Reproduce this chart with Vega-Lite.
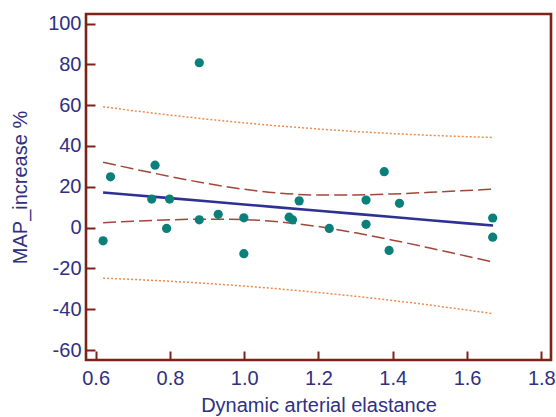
{
  "$schema": "https://vega.github.io/schema/vega-lite/v6.json",
  "width": 465,
  "height": 346,
  "autosize": {"type": "none"},
  "padding": {"left": 86, "top": 14, "right": 5, "bottom": 57},
  "background": "white",
  "config": {
    "view": {"stroke": "#7a231a", "strokeWidth": 2.6},
    "axis": {
      "grid": false,
      "domain": false,
      "labelFont": "Liberation Sans",
      "labelFontSize": 20,
      "labelColor": "#2f3080",
      "titleFont": "Liberation Sans",
      "titleFontSize": 20,
      "titleFontWeight": "normal",
      "titleColor": "#2f3080",
      "tickColor": "#7a231a",
      "tickWidth": 2
    }
  },
  "datasets": {
    "points": [
      {"eadyn": 0.620, "map": -6.5},
      {"eadyn": 0.640, "map": 24.9},
      {"eadyn": 0.751, "map": 14.0},
      {"eadyn": 0.760, "map": 30.6},
      {"eadyn": 0.791, "map": -0.4},
      {"eadyn": 0.799, "map": 14.0},
      {"eadyn": 0.879, "map": 80.8},
      {"eadyn": 0.879, "map": 3.8},
      {"eadyn": 0.930, "map": 6.5},
      {"eadyn": 0.999, "map": 4.8},
      {"eadyn": 0.999, "map": -12.8},
      {"eadyn": 1.121, "map": 5.1},
      {"eadyn": 1.130, "map": 3.8},
      {"eadyn": 1.148, "map": 13.1},
      {"eadyn": 1.229, "map": -0.4},
      {"eadyn": 1.328, "map": 13.5},
      {"eadyn": 1.328, "map": 1.6},
      {"eadyn": 1.377, "map": 27.4},
      {"eadyn": 1.390, "map": -11.2},
      {"eadyn": 1.418, "map": 11.9},
      {"eadyn": 1.669, "map": 4.7},
      {"eadyn": 1.669, "map": -4.7}
    ],
    "fit": [
      {"eadyn": 0.62, "reg": 17.20, "ciLo": 2.39, "ciHi": 32.01, "piLo": -24.80, "piHi": 59.20},
      {"eadyn": 0.70, "reg": 15.97, "ciLo": 3.09, "ciHi": 28.85, "piLo": -25.39, "piHi": 57.33},
      {"eadyn": 0.80, "reg": 14.43, "ciLo": 3.80, "ciHi": 25.06, "piLo": -26.28, "piHi": 55.14},
      {"eadyn": 0.90, "reg": 12.88, "ciLo": 4.15, "ciHi": 21.61, "piLo": -27.38, "piHi": 53.14},
      {"eadyn": 1.00, "reg": 11.34, "ciLo": 3.92, "ciHi": 18.76, "piLo": -28.65, "piHi": 51.33},
      {"eadyn": 1.084, "reg": 10.04, "ciLo": 3.01, "ciHi": 17.07, "piLo": -29.88, "piHi": 49.96},
      {"eadyn": 1.20, "reg": 8.25, "ciLo": 0.50, "ciHi": 16.00, "piLo": -31.81, "piHi": 48.31},
      {"eadyn": 1.30, "reg": 6.71, "ciLo": -2.58, "ciHi": 16.00, "piLo": -33.67, "piHi": 47.09},
      {"eadyn": 1.40, "reg": 5.17, "ciLo": -6.15, "ciHi": 16.49, "piLo": -35.73, "piHi": 46.07},
      {"eadyn": 1.50, "reg": 3.63, "ciLo": -10.01, "ciHi": 17.27, "piLo": -37.97, "piHi": 45.23},
      {"eadyn": 1.60, "reg": 2.08, "ciLo": -14.03, "ciHi": 18.19, "piLo": -40.39, "piHi": 44.55},
      {"eadyn": 1.67, "reg": 1.00, "ciLo": -16.90, "ciHi": 18.90, "piLo": -42.18, "piHi": 44.18}
    ]
  },
  "layer": [
    {
      "data": {"name": "fit"},
      "mark": {"type": "line", "color": "#f08a4b", "strokeWidth": 1.5, "strokeDash": [2, 2]},
      "encoding": {
        "x": {"field": "eadyn", "type": "quantitative",
          "scale": {"domain": [0.574, 1.826], "nice": false, "zero": false},
          "axis": {
            "title": "Dynamic arterial elastance",
            "values": [0.6, 0.7, 0.8, 0.9, 1.0, 1.1, 1.2, 1.3, 1.4, 1.5, 1.6, 1.7, 1.8],
            "labelExpr": "round(datum.value * 10) % 2 === 0 ? format(datum.value, '.1f') : ''",
            "tickSize": {"condition": {"test": "round(datum.value * 10) % 2 === 0", "value": -9}, "value": -5},
            "labelPadding": 17,
            "titlePadding": 7
          }
        },
        "y": {"field": "piHi", "type": "quantitative",
          "scale": {"domain": [-64.9, 104.7], "nice": false, "zero": false},
          "axis": {
            "title": "MAP_increase %",
            "values": [-60, -50, -40, -30, -20, -10, 0, 10, 20, 30, 40, 50, 60, 70, 80, 90, 100],
            "labelExpr": "datum.value % 20 === 0 ? toString(datum.value) : ''",
            "tickSize": {"condition": {"test": "datum.value % 20 === 0", "value": -9}, "value": -5},
            "labelPadding": 14,
            "titlePadding": 17
          }
        }
      }
    },
    {
      "data": {"name": "fit"},
      "mark": {"type": "line", "color": "#f08a4b", "strokeWidth": 1.5, "strokeDash": [2, 2]},
      "encoding": {
        "x": {"field": "eadyn", "type": "quantitative"},
        "y": {"field": "piLo", "type": "quantitative"}
      }
    },
    {
      "data": {"name": "fit"},
      "mark": {"type": "line", "color": "#a3463a", "strokeWidth": 1.5, "strokeDash": [13, 5], "interpolate": "monotone"},
      "encoding": {
        "x": {"field": "eadyn", "type": "quantitative"},
        "y": {"field": "ciHi", "type": "quantitative"}
      }
    },
    {
      "data": {"name": "fit"},
      "mark": {"type": "line", "color": "#a3463a", "strokeWidth": 1.5, "strokeDash": [13, 5], "interpolate": "monotone"},
      "encoding": {
        "x": {"field": "eadyn", "type": "quantitative"},
        "y": {"field": "ciLo", "type": "quantitative"}
      }
    },
    {
      "data": {"name": "fit"},
      "mark": {"type": "line", "color": "#2e3192", "strokeWidth": 2.6},
      "encoding": {
        "x": {"field": "eadyn", "type": "quantitative"},
        "y": {"field": "reg", "type": "quantitative"}
      }
    },
    {
      "data": {"name": "points"},
      "mark": {"type": "circle", "color": "#0b807a", "opacity": 1, "size": 85},
      "encoding": {
        "x": {"field": "eadyn", "type": "quantitative"},
        "y": {"field": "map", "type": "quantitative"}
      }
    }
  ]
}
